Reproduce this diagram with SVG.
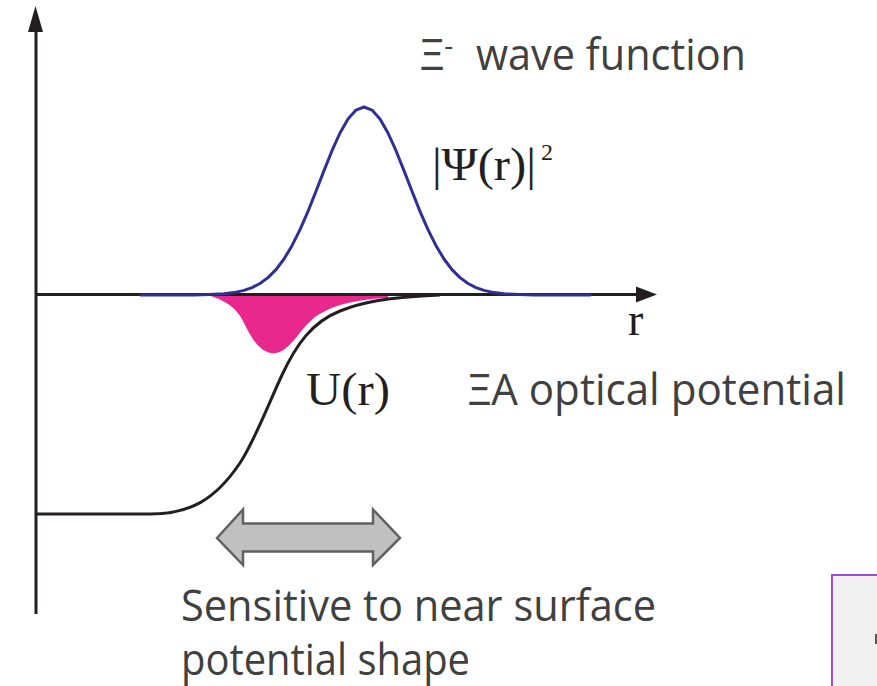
<svg xmlns="http://www.w3.org/2000/svg" width="877" height="686" viewBox="0 0 877 686">
  <style>
    .sans { font-family: "Open Sans", "Liberation Sans", sans-serif; fill: #404040; }
    .serif { font-family: "Liberation Serif", "Times New Roman", serif; fill: #231f20; }
    .axis { stroke: #231f20; stroke-width: 3; fill: none; }
    .head { fill: #231f20; }
  </style>
  <rect width="877" height="686" fill="#ffffff"/>

  <g id="overlap-region">
    <path d="M203,294 L388,295 L388,298 C360,299 335,304 318,315 C300,327 292,350 276,353 C262,355 252,340 244,323 C236,305 220,298 203,294 Z" fill="#e8288c"/>
  </g>

  <g id="connectors">
    <line class="axis" x1="36" y1="614" x2="36" y2="28"/>
    <polygon class="head" points="35.5,6 28,32 43,32"/>
    <line class="axis" x1="36" y1="294.5" x2="640" y2="294.5"/>
    <polygon class="head" points="657,294.5 636,286.5 636,302.5"/>
  </g>

  <g id="wave-function">
    <polyline fill="none" stroke="#2e3192" stroke-width="3" stroke-linejoin="round" stroke-linecap="round"
      points="141,295 194,294.9 209,294.6 224,293.8 234,292.6 244,290.4 252,287.6 260,283.5 268,277.6 276,269.6 284,259 292,245.7 300,229.7 308,211.4 316,191.3 324,170.6 332,150.7 340,133 348,119 356,110.1 364,107 372,110.1 380,119 388,133 396,150.7 404,170.6 412,191.3 420,211.4 428,229.7 436,245.7 444,259 452,269.6 460,277.6 468,283.5 476,287.6 484,290.4 494,292.6 504,293.8 519,294.6 534,294.9 590,295"/>
  </g>

  <g id="potential">
    <path d="M36,514 L150,514 C190,514 215,500 240,463 C255,440 268,405 282,375 C296,345 312,322 340,311 C360,303 385,297 440,295" fill="none" stroke="#231f20" stroke-width="3"/>
  </g>

  <g id="range-arrow">
    <polygon points="217,538 243,509.5 243,523.5 373,523.5 373,509.5 400,538 373,565 373,551.5 243,551.5 243,565" fill="#c0c0c0" stroke="#606060" stroke-width="2.5" stroke-linejoin="miter"/>
  </g>

  <g id="labels">
    <text class="sans" x="420" y="70" font-size="44">Ξ<tspan dy="-15" font-size="28">-</tspan></text>
    <text class="sans" x="476" y="70" font-size="44" textLength="270" lengthAdjust="spacingAndGlyphs">wave function</text>
    <text class="serif" x="432" y="180" font-size="46" textLength="104" lengthAdjust="spacingAndGlyphs">|Ψ(r)|</text>
    <text class="serif" x="541" y="160" font-size="24">2</text>
    <text class="serif" x="628" y="335" font-size="46">r</text>
    <text class="serif" x="306" y="405" font-size="46" textLength="84" lengthAdjust="spacingAndGlyphs">U(r)</text>
    <text class="sans" x="468" y="405" font-size="44" textLength="378" lengthAdjust="spacingAndGlyphs">ΞA optical potential</text>
    <text class="sans" x="181" y="621" font-size="43" textLength="475" lengthAdjust="spacingAndGlyphs">Sensitive to near surface</text>
    <text class="sans" x="181" y="675" font-size="43" textLength="289" lengthAdjust="spacingAndGlyphs">potential shape</text>
  </g>

  <g id="corner-panel">
    <rect x="832" y="575" width="50" height="120" fill="#f0f0f0" stroke="#9d4edd" stroke-width="2"/>
    <rect x="875" y="634" width="2" height="10" fill="#555555"/>
  </g>
</svg>
